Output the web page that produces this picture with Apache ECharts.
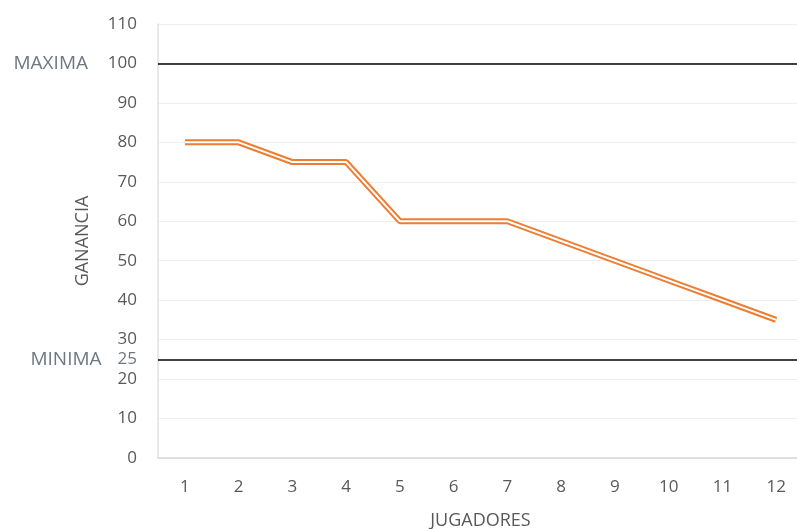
<!DOCTYPE html>
<html>
<head>
<meta charset="utf-8">
<script src="https://cdn.jsdelivr.net/npm/echarts@6/dist/echarts.min.js"></script>
<style>
  html, body { margin: 0; padding: 0; background: #fff; }
  #chart { width: 797px; height: 529px; }
</style>
</head>
<body>
<div id="chart"></div>
<script>
var jugadores = ['1', '2', '3', '4', '5', '6', '7', '8', '9', '10', '11', '12'];
var ganancia = [80, 80, 75, 75, 60, 60, 60, 55, 50, 45, 40, 35];
var maxima = 100;
var minima = 25;

var chart = echarts.init(document.getElementById('chart'));
var font = 'Open Sans, Liberation Sans, sans-serif';
var orange = '#ED7D31';

var option = {
    animation: false,
    grid: { left: 158, right: -6, top: 24, bottom: 71, outerBoundsMode: 'none', containLabel: false },
    xAxis: {
        type: 'category',
        data: jugadores,
        boundaryGap: true,
        name: 'JUGADORES',
        nameLocation: 'middle',
        nameGap: 54,
        nameTextStyle: { color: '#595959', fontSize: 18, fontFamily: font },
        axisLine: { lineStyle: { color: '#d9d9d9', width: 1.5 } },
        axisTick: { show: false },
        axisLabel: { color: '#595959', fontSize: 17, margin: 21, fontFamily: font }
    },
    yAxis: {
        type: 'value',
        min: 0,
        max: 110,
        interval: 10,
        name: 'GANANCIA',
        nameLocation: 'middle',
        nameGap: 66,
        nameTextStyle: { color: '#595959', fontSize: 18, fontFamily: font },
        axisLine: { show: true, lineStyle: { color: '#e0e0e0', width: 1.5 } },
        axisTick: { show: false },
        axisLabel: { color: '#595959', fontSize: 17, margin: 21, fontFamily: font },
        splitLine: { lineStyle: { color: '#eeeeee', width: 1 } }
    },
    series: [
        {
            type: 'line',
            data: ganancia,
            showSymbol: false,
            lineStyle: { color: orange, width: 6 },
            z: 3,
            markLine: {
                silent: true,
                symbol: 'none',
                lineStyle: { color: '#000', width: 1.5, type: 'solid' },
                label: {
                    position: 'start',
                    color: '#6f7782',
                    fontSize: 19,
                    fontFamily: font
                },
                data: [
                    { yAxis: maxima, label: { formatter: 'MAXIMA', distance: 70 } },
                    {
                        yAxis: minima,
                        label: {
                            formatter: '{m|MINIMA}{n|' + minima + '}',
                            distance: 21,
                            rich: {
                                m: { color: '#6f7782', fontSize: 19, fontFamily: font, padding: [0, 16, 0, 0] },
                                n: { color: '#6f7782', fontSize: 17, fontFamily: font }
                            }
                        }
                    }
                ]
            }
        },
        {
            type: 'line',
            data: ganancia,
            showSymbol: false,
            lineStyle: { color: '#ffffff', width: 2 },
            z: 4
        }
    ]
};
chart.setOption(option);
</script>
</body>
</html>
